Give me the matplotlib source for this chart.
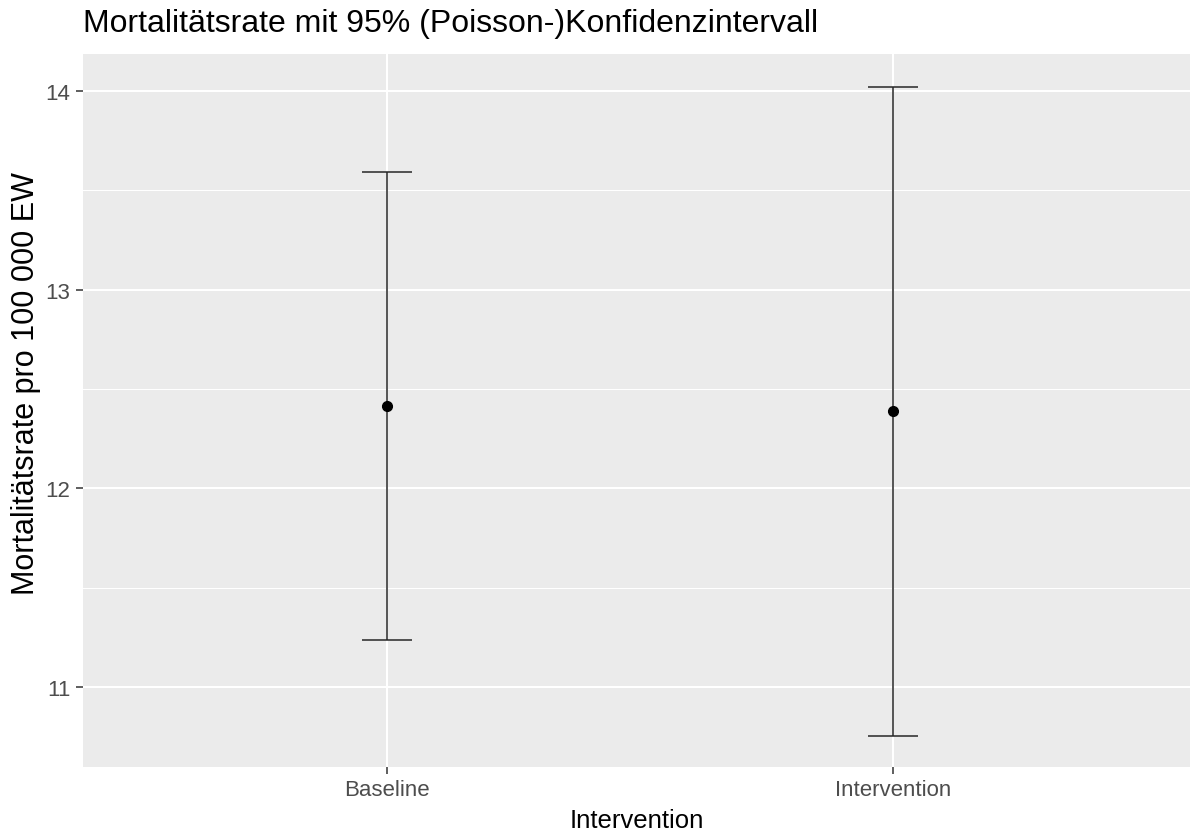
import numpy as np
import matplotlib.pyplot as plt

# Mortalitätsrate pro 100 000 EW mit 95%-Poisson-Konfidenzintervall
gruppen = ['Baseline', 'Intervention']
rate = [12.415, 12.39]
ki_unten = [11.235, 10.755]
ki_oben = [13.591, 14.02]

plt.rcParams['font.family'] = ['Liberation Sans', 'DejaVu Sans']

W, H = 1190, 837
fig = plt.figure(figsize=(W / 100, H / 100), dpi=100)
ax = fig.add_axes([83 / W, 69 / H, 1 - 83 / W, (768 - 55) / H])

x = np.arange(len(gruppen))
rate = np.array(rate)
fehler = np.vstack([rate - np.array(ki_unten), np.array(ki_oben) - rate])

ax.set_facecolor('#EBEBEB')
for s in ax.spines.values():
    s.set_visible(False)

# Gitterlinien im ggplot-Stil
ax.set_yticks([11, 12, 13, 14])
ax.set_yticks([11.5, 12.5, 13.5], minor=True)
ax.grid(True, which='major', color='white', linewidth=1.5)
ax.grid(True, which='minor', axis='y', color='white', linewidth=0.75)
ax.set_axisbelow(True)

ax.errorbar(x, rate, yerr=fehler, fmt='o', color='black', ecolor='#262626',
            elinewidth=1.1, capsize=18, capthick=1.1, markersize=7)

ax.set_xticks(x)
ax.set_xticklabels(gruppen)
ax.set_xlim(-0.6, 1.586)
ax.set_ylim(10.598, 14.185)

ax.tick_params(axis='both', which='major', length=5, width=1.1, color='#333333',
               labelcolor='#4D4D4D', labelsize=16, pad=4)
ax.tick_params(axis='y', which='minor', length=0)

ax.set_xlabel('Intervention', fontsize=18.5, color='black', va='center')
ax.xaxis.set_label_coords(0.5, -0.0743)
ax.set_ylabel('Mortalitätsrate pro 100 000 EW', fontsize=22, color='black', va='center')
ax.yaxis.set_label_coords(-0.0515, 0.5386)
fig.text(83 / W, 1 - 24 / H, 'Mortalitätsrate mit 95% (Poisson-)Konfidenzintervall',
         fontsize=23, ha='left', va='center')

fig.savefig('out.png', dpi=100)
